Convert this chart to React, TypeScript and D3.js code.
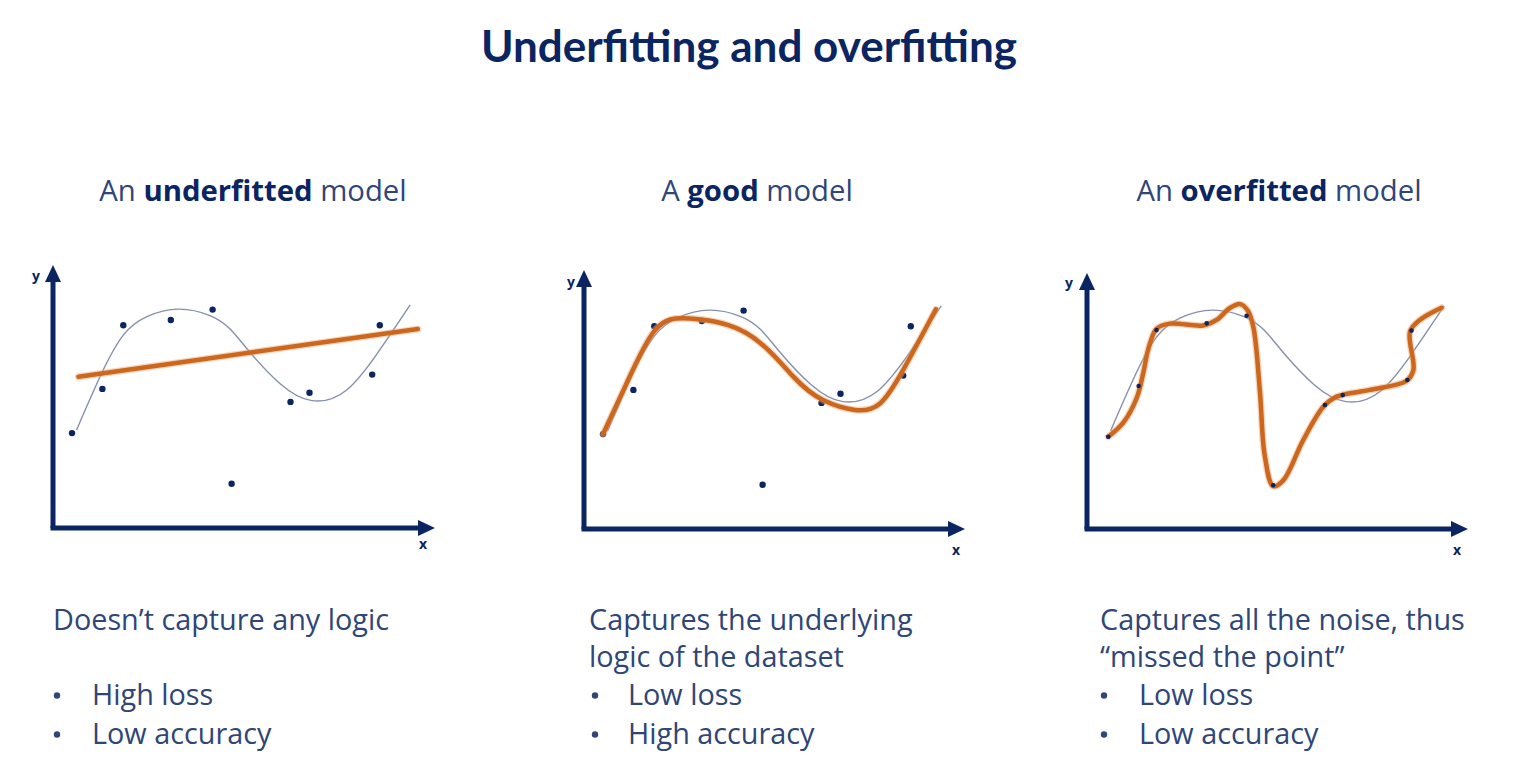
import React, { useEffect } from 'react';
import * as d3 from 'd3';

// scatter points shared by the first two panels (domain 0..100 on both axes)
const pointX = [5, 13, 18.5, 31, 42, 47, 62.5, 67.5, 84, 86];
const pointY = [36.5, 53.5, 78, 80, 84, 17, 48.5, 52, 59, 78];

// the overfitted panel has its points slightly shifted
const overPointX = [5.6, 13.6, 18.3, 31.5, 42, 49, 62.6, 67.3, 84.3, 85.4];
const overPointY = [35.5, 55, 76.5, 79.1, 82, 16.8, 47.7, 51.5, 57.3, 76.3];

// underlying "true" function (thin grey curve)
const trueX = [6.2, 12.8, 18.5, 24.7, 33, 41.3, 46.6, 51.7, 59.7, 68.1, 77.3, 86, 94];
const trueY = [37.7, 59.5, 74.2, 81.3, 84.2, 81.7, 76.5, 67.8, 55.6, 49, 53.1, 68.5, 85.8];

// fitted models (orange)
const underX = [6.7, 96];
const underY = [58.2, 76.5];

const goodX = [5, 11.2, 18.7, 27.9, 42.8, 55.1, 62.9, 71.3, 77.9, 84, 92.6];
const goodY = [36.5, 56, 76.5, 81, 75.3, 58.6, 49.6, 45.8, 48.3, 61.2, 84.5];

const overX = [5.6, 9.6, 13.1, 14.8, 16.1, 18.3, 21.8, 30.6, 34.1, 37.6, 40.3, 42.3, 43.8, 45.5, 46.8, 49, 51.7, 56.9, 62.2, 65.7, 74.5, 84.1, 85.9, 85, 87.6, 93.3];
const overY = [35.5, 41, 50.5, 60, 69, 77, 79, 78.3, 80.4, 85, 86.5, 84, 77.5, 53, 28, 16.5, 18.8, 34.2, 47, 50.9, 53.5, 57, 61.2, 75.9, 80.4, 85.1];

const titles = [
  { pre: 'An ', bold: 'underfitted', post: ' model' },
  { pre: 'A ', bold: 'good', post: ' model' },
  { pre: 'An ', bold: 'overfitted', post: ' model' },
];
const descriptions = [
  ['Doesn\u2019t capture any logic'],
  ['Captures the underlying', 'logic of the dataset'],
  ['Captures all the noise, thus', '\u201cmissed the point\u201d'],
];
const bullets = [
  ['High loss', 'Low accuracy'],
  ['Low loss', 'High accuracy'],
  ['Low loss', 'Low accuracy'],
];

const NAVY = '#0b2462';
const TEXT = '#2f4677';
const ORANGE = '#cd671e';
const GREY = '#8690ae';
const BODY = "'Open Sans', sans-serif";

const zip = (xs: number[], ys: number[]) => xs.map((x, i) => [x, ys[i]] as [number, number]);

interface PanelProps {
  ox: number;
  oy: number;
  yTip: number;
  xTip: number;
  cx: number;
  idx: number;
  fitX: number[];
  fitY: number[];
  px: number[];
  py: number[];
  dotR: number;
  yLabel: [number, number];
  xLabel: [number, number];
}

const Panel: React.FC<PanelProps> = ({ ox, oy, yTip, xTip, cx, idx, fitX, fitY, px, py, dotR, yLabel, xLabel }) => {
  const x = d3.scaleLinear().domain([0, 100]).range([ox, ox + 380]);
  const y = d3.scaleLinear().domain([0, 100]).range([oy, oy - 260]);
  const smooth = d3.line<[number, number]>().x((d) => x(d[0])).y((d) => y(d[1])).curve(d3.curveNatural);
  const wiggly = d3.line<[number, number]>().x((d) => x(d[0])).y((d) => y(d[1])).curve(d3.curveCatmullRom.alpha(0.5));
  const straight = d3.line<[number, number]>().x((d) => x(d[0])).y((d) => y(d[1]));
  const fitPath = idx === 0 ? straight(zip(fitX, fitY)) : idx === 1 ? smooth(zip(fitX, fitY)) : wiggly(zip(fitX, fitY));
  const t = titles[idx];
  const desc = descriptions[idx];
  const textX = [53, 589, 1100][idx];
  const bulletX = [57, 595, 1104][idx];
  const bulletTextX = [92, 628, 1139][idx];
  const bulletY0 = 705;
  return (
    <g>
      <text x={cx} y={201} textAnchor="middle" fontFamily={BODY} fontSize={29.3} fill={TEXT}>
        {t.pre}
        <tspan fontWeight={700} fill={NAVY}>{t.bold}</tspan>
        {t.post}
      </text>

      {/* axes */}
      <line x1={ox} y1={oy} x2={ox} y2={yTip + 14} stroke={NAVY} strokeWidth={5} />
      <line x1={ox - 2.5} y1={oy} x2={xTip - 14} y2={oy} stroke={NAVY} strokeWidth={5} />
      <path d={`M${ox},${yTip} L${ox + 8},${yTip + 17} L${ox - 8},${yTip + 17} Z`} fill={NAVY} />
      <path d={`M${xTip},${oy} L${xTip - 17},${oy - 8} L${xTip - 17},${oy + 8} Z`} fill={NAVY} />
      <text x={yLabel[0]} y={yLabel[1]} textAnchor="middle" fontFamily={BODY} fontWeight={700} fontSize={14} fill={NAVY}>y</text>
      <text x={xLabel[0]} y={xLabel[1]} textAnchor="middle" fontFamily={BODY} fontWeight={700} fontSize={14} fill={NAVY}>x</text>

      {/* true function */}
      <path d={smooth(zip(trueX, trueY)) || ''} fill="none" stroke={GREY} strokeWidth={1.4} />

      {idx !== 2 && px.map((v, i) => (
        <circle key={i} cx={x(v)} cy={y(py[i])} r={dotR} fill={NAVY} />
      ))}

      {/* model fit */}
      <path d={fitPath || ''} fill="none" stroke="#e8a56f" strokeWidth={7} strokeOpacity={0.45} strokeLinecap="round" strokeLinejoin="round" />
      <path d={fitPath || ''} fill="none" stroke={ORANGE} strokeWidth={4.5} strokeLinecap="round" strokeLinejoin="round" />

      {idx === 2 && px.map((v, i) => (
        <circle key={i} cx={x(v)} cy={y(py[i])} r={dotR} fill={NAVY} />
      ))}

      {/* description */}
      {desc.map((line, i) => (
        <text key={i} x={textX} y={630 + i * 37} fontFamily={BODY} fontSize={28.8} fill={TEXT}>{line}</text>
      ))}
      {bullets[idx].map((b, i) => (
        <g key={b}>
          <circle cx={bulletX} cy={bulletY0 + i * 39 - 9.5} r={3.2} fill={TEXT} />
          <text x={bulletTextX} y={bulletY0 + i * 39} fontFamily={BODY} fontSize={28.8} fill={TEXT}>{b}</text>
        </g>
      ))}
    </g>
  );
};

export default function App() {
  useEffect(() => {
    document.body.style.margin = '0';
    document.body.style.background = '#ffffff';
  }, []);

  return (
    <svg width={1528} height={770} style={{ display: 'block', background: '#ffffff' }}>
      <text x={749} y={62} textAnchor="middle" fontFamily="Lato, 'Open Sans', sans-serif" fontWeight={700} fontSize={44} fill={NAVY}>
        Underfitting and overfitting
      </text>
      <Panel ox={53} oy={528} yTip={265} xTip={435} cx={253} idx={0} fitX={underX} fitY={underY} px={pointX} py={pointY} dotR={3.2}
        yLabel={[36, 281]} xLabel={[423, 549]} />
      <Panel ox={584} oy={529} yTip={270} xTip={965} cx={757} idx={1} fitX={goodX} fitY={goodY} px={pointX} py={pointY} dotR={3.2}
        yLabel={[571, 287]} xLabel={[956, 555]} />
      <Panel ox={1087} oy={529} yTip={273} xTip={1468} cx={1279} idx={2} fitX={overX} fitY={overY} px={overPointX} py={overPointY} dotR={2.3}
        yLabel={[1069, 288]} xLabel={[1457, 555]} />
    </svg>
  );
}
